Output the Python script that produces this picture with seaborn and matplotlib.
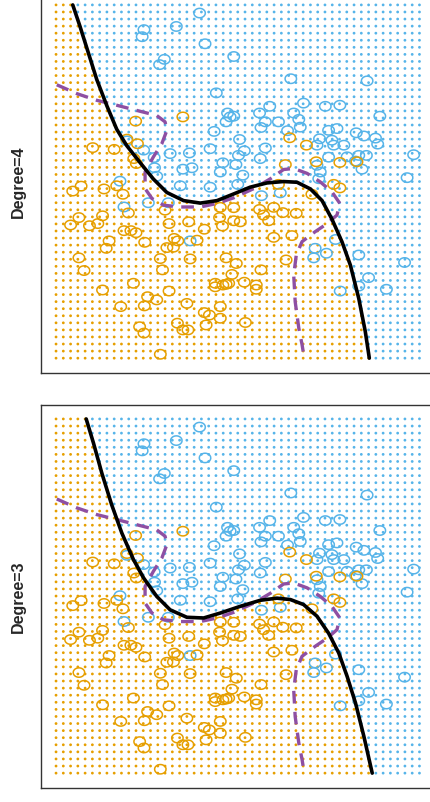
import numpy as np
import pandas as pd
import seaborn as sns
import matplotlib.pyplot as plt
from matplotlib.path import Path

sns.set_style("white")
plt.rcParams["font.family"] = ["Liberation Sans", "DejaVu Sans"]

ORANGE = "#E69F00"
BLUE = "#56B4E9"
PURPLE = "#8E4FA3"

# observations (same in both panels)
blue_x = [3.95, 3.31, 2.42, 2.37, 4.10, 4.89, 2.98, 2.85, 6.46, 8.56, 4.41, 6.81, 7.41, 7.81,
          5.88, 5.60, 4.72, 4.79, 4.89, 4.68, 6.54, 6.68, 6.72, 8.91, 6.12, 5.76, 5.64, 6.37,
          4.35, 7.50, 7.73, 8.26, 8.47, 8.79, 8.85, 7.25, 7.59, 7.18, 7.64, 7.92, 5.05, 4.24,
          5.76, 3.67, 3.14, 5.18, 5.02, 5.62, 2.70, 7.50, 8.01, 8.33, 8.54, 9.84, 4.95, 4.59,
          8.42, 8.24, 7.18, 7.27, 3.49, 3.74, 2.71, 2.77, 5.14, 4.52, 9.66, 7.23, 1.76, 5.00,
          4.24, 3.42, 5.65, 6.17, 2.54, 1.87, 3.09, 1.95, 2.41, 7.69, 3.69, 7.13, 7.44, 7.09,
          8.33, 9.59, 8.60, 8.33, 9.09, 7.82]
blue_y = [9.77, 9.39, 9.30, 9.10, 8.90, 8.54, 8.46, 8.31, 7.91, 7.85, 7.51, 7.22, 7.13, 7.16,
          7.13, 6.94, 6.94, 6.83, 6.85, 6.69, 6.94, 6.76, 6.54, 6.85, 6.69, 6.69, 6.53, 6.44,
          6.42, 6.45, 6.50, 6.38, 6.29, 6.23, 6.06, 6.21, 6.17, 6.03, 6.03, 6.03, 6.19, 5.93,
          5.95, 5.81, 5.79, 5.87, 5.74, 5.65, 5.68, 5.69, 5.70, 5.74, 5.74, 5.76, 5.48, 5.53,
          5.35, 5.58, 5.46, 5.27, 5.35, 5.39, 5.39, 5.15, 5.18, 5.27, 5.11, 5.08, 5.01, 4.92,
          4.84, 4.88, 4.60, 4.68, 4.40, 4.28, 4.40, 6.15, 5.89, 3.36, 3.32, 3.11, 2.97, 2.84,
          2.92, 2.71, 2.28, 2.04, 1.95, 1.90]

orange_x = [3.49, 2.19, 6.43, 6.89, 1.01, 1.60, 1.95, 2.24, 2.14, 2.21, 6.31, 7.16, 7.81, 8.28,
            0.46, 0.69, 1.32, 1.67, 1.84, 7.64, 7.81, 7.04, 6.12, 0.40, 0.63, 0.92, 1.15, 1.28,
            1.99, 3.00, 3.11, 3.65, 4.52, 4.89, 4.50, 4.58, 4.89, 5.07, 5.60, 5.71, 5.85, 5.99,
            6.24, 6.61, 4.08, 1.87, 2.06, 2.20, 1.46, 1.38, 2.44, 3.25, 3.35, 3.23, 3.05, 3.88,
            5.99, 6.49, 0.63, 0.77, 2.87, 2.93, 3.69, 4.68, 4.96, 4.84, 4.68, 5.64, 6.33, 1.28,
            2.13, 3.11, 4.38, 4.38, 4.59, 4.75, 5.18, 5.51, 5.51, 1.78, 2.52, 2.77, 2.43, 3.60,
            4.08, 4.22, 4.52, 4.52, 2.30, 2.42, 3.34, 3.49, 3.63, 4.13, 5.21, 2.87]
orange_y = [6.83, 6.71, 6.24, 6.03, 5.96, 5.91, 6.20, 6.07, 5.65, 5.51, 5.48, 5.56, 5.54, 5.56,
            4.73, 4.87, 4.79, 4.88, 4.64, 4.92, 4.82, 4.64, 4.92, 3.77, 3.98, 3.75, 3.81, 4.03,
            4.11, 4.19, 3.81, 3.86, 4.27, 4.26, 3.98, 3.74, 3.89, 3.86, 4.21, 4.05, 3.89, 4.27,
            4.12, 4.10, 3.65, 3.61, 3.61, 3.55, 3.32, 3.11, 3.28, 3.39, 3.32, 3.14, 3.13, 3.34,
            3.42, 3.47, 2.84, 2.48, 2.82, 2.50, 2.81, 2.84, 2.68, 2.37, 2.09, 2.50, 2.78, 1.93,
            2.12, 1.90, 2.12, 2.02, 2.07, 2.12, 2.15, 2.07, 1.95, 1.46, 1.74, 1.65, 1.48, 1.55,
            1.29, 1.22, 1.46, 1.13, 0.89, 0.71, 0.99, 0.80, 0.80, 0.94, 1.01, 0.11]

# Bayes decision boundary
bayes_x = [0.02, 0.57, 1.12, 1.67, 2.31, 2.77, 3.00, 3.05, 2.91, 2.68, 2.45, 2.45, 2.64, 2.96,
           3.42, 3.97, 4.43, 4.89, 5.44, 5.90, 6.26, 6.54, 6.91, 7.27, 7.59, 7.81, 7.73, 7.46,
           7.13, 6.77, 6.61, 6.54, 6.58, 6.68, 6.77, 6.83]
bayes_y = [7.74, 7.49, 7.30, 7.16, 6.99, 6.87, 6.69, 6.45, 6.07, 5.70, 5.27, 4.80, 4.52, 4.33,
           4.28, 4.28, 4.38, 4.54, 4.80, 5.08, 5.34, 5.37, 5.23, 4.99, 4.71, 4.38, 4.05, 3.81,
           3.58, 3.30, 2.92, 2.35, 1.60, 0.85, 0.38, 0.00]

# logistic regression boundaries
deg4_x = [0.46, 0.66, 0.89, 1.12, 1.40, 1.67, 1.95, 2.31, 2.68, 3.05, 3.51, 3.97, 4.43, 4.89,
          5.34, 5.80, 6.26, 6.63, 7.00, 7.32, 7.59, 7.87, 8.10, 8.33, 8.51, 8.62]
deg4_y = [10.0, 9.39, 8.64, 7.89, 7.14, 6.48, 6.01, 5.54, 5.07, 4.69, 4.46, 4.39, 4.46, 4.65,
          4.84, 4.96, 5.00, 4.98, 4.79, 4.46, 3.94, 3.29, 2.63, 1.69, 0.75, 0.00]
deg3_x = [0.83, 1.03, 1.26, 1.53, 1.81, 2.13, 2.41, 2.77, 3.14, 3.60, 4.06, 4.52, 5.07, 5.62,
          6.08, 6.45, 6.81, 7.18, 7.50, 7.78, 8.01, 8.24, 8.47, 8.70]
deg3_y = [10.0, 9.32, 8.47, 7.58, 6.78, 6.03, 5.51, 4.99, 4.61, 4.40, 4.38, 4.52, 4.71, 4.88,
          4.94, 4.90, 4.76, 4.43, 3.95, 3.39, 2.73, 1.98, 1.04, 0.00]

panels = [("Degree=4", deg4_x, deg4_y), ("Degree=3", deg3_x, deg3_y)]

obs = pd.concat([
    pd.DataFrame({"x1": blue_x, "x2": blue_y, "cls": "blue"}),
    pd.DataFrame({"x1": orange_x, "x2": orange_y, "cls": "orange"}),
])
bayes = pd.DataFrame({"x1": bayes_x, "x2": bayes_y})

g1, g2 = np.meshgrid(np.linspace(0, 10, 51), np.linspace(0, 10, 51))
grid = pd.DataFrame({"x1": g1.ravel(), "x2": g2.ravel()})

# slightly flattened open circle, like the original plot symbols
t = np.linspace(0, 2 * np.pi, 40)
ring = Path(np.column_stack([np.cos(t), 0.82 * np.sin(t)]))

W, H = 431, 802
fig = plt.figure(figsize=(W / 100, H / 100), dpi=100)
boxes = [(41.5, -8.5, 434, 373), (41.5, 405.5, 434, 788)]

for (label, bx, by), (l, t_, r, b) in zip(panels, boxes):
    ax = fig.add_axes([l / W, 1 - b / H, (r - l) / W, (b - t_) / H])

    # colour each grid point by the side of the fitted boundary
    cut = np.interp(grid["x1"], bx, by, left=11, right=-1)
    grid["side"] = np.where(grid["x2"] < cut, "orange", "blue")
    sns.scatterplot(data=grid, x="x1", y="x2", hue="side",
                    palette={"orange": ORANGE, "blue": BLUE}, s=4, linewidth=0,
                    legend=False, ax=ax, zorder=1)

    for cls, col in [("blue", BLUE), ("orange", ORANGE)]:
        sub = obs[obs["cls"] == cls]
        ax.scatter(sub["x1"], sub["x2"], s=68, marker=ring, facecolors="none",
                   edgecolors=col, linewidths=1.1, zorder=2)

    sns.lineplot(data=bayes, x="x1", y="x2", sort=False, estimator=None, color=PURPLE,
                 lw=2.4, linestyle=(0, (3.8, 2.5)), ax=ax, zorder=3)
    fit = pd.DataFrame({"x1": bx, "x2": by})
    sns.lineplot(data=fit, x="x1", y="x2", sort=False, estimator=None, color="black",
                 lw=2.6, ax=ax, zorder=4)

    ax.set_xlim(-0.4, 10.4)
    ax.set_ylim(-0.42, 10.38)
    ax.set_xticks([])
    ax.set_yticks([])
    ax.set_xlabel("")
    ax.set_ylabel("")
    for sp in ax.spines.values():
        sp.set_color("#333333")
        sp.set_linewidth(1.0)
    ax.text(-0.06, 0.5, label, transform=ax.transAxes, rotation=90, ha="center",
            va="center", fontsize=11.5, fontweight="bold")

fig.savefig("out.png", dpi=100)
